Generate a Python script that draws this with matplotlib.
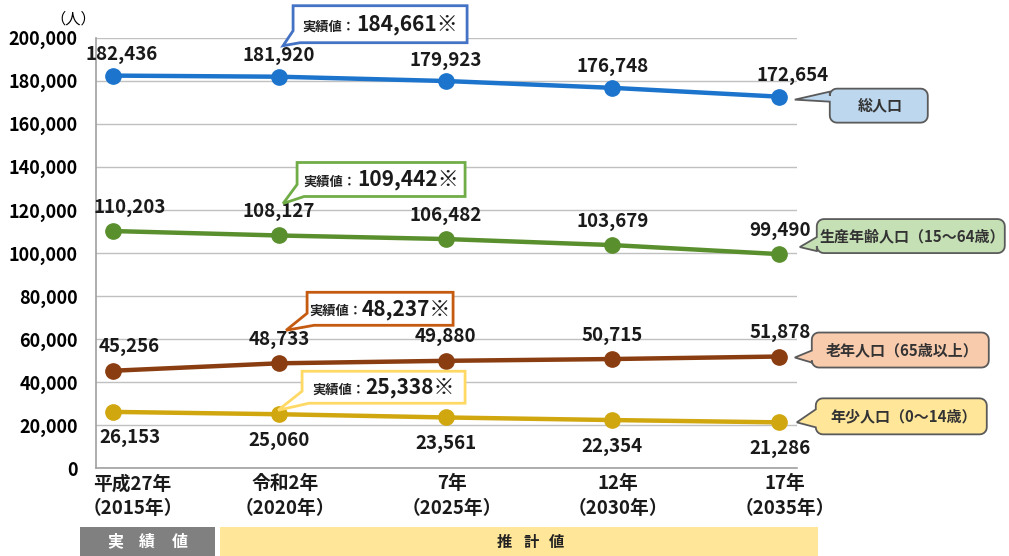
import numpy as np
import matplotlib.pyplot as plt
from matplotlib.offsetbox import TextArea, HPacker, AnnotationBbox
from matplotlib.transforms import Affine2D, ScaledTranslation
from matplotlib.patches import Rectangle, Polygon

plt.rcParams['font.family'] = ['Noto Sans CJK JP', 'DejaVu Sans']

# データ
era_labels = ['平成27年', '令和2年', '7年', '12年', '17年']
years = [2015, 2020, 2025, 2030, 2035]
total = [182436, 181920, 179923, 176748, 172654]
working = [110203, 108127, 106482, 103679, 99490]
elderly = [45256, 48733, 49880, 50715, 51878]
young = [26153, 25060, 23561, 22354, 21286]
actual_2020 = ['184,661※', '109,442※', '48,237※', '25,338※']

series_names = ['総人口', '生産年齢人口（15～64歳）', '老年人口（65歳以上）', '年少人口（0～14歳）']
series = [total, working, elderly, young]
line_colors = ['#1C74CC', '#5A8F2E', '#8A3D10', '#D0A70E']
box_colors = ['#BDD7EE', '#C5E0B4', '#F8CBAD', '#FFE699']
callout_edges = ['#4472C4', '#70AD47', '#C55A11', '#FFD966']

fig = plt.figure(figsize=(10.09, 5.56), dpi=100)
ax = fig.add_axes([0.095, 0.158, 0.695, 0.774])
x = list(range(len(years)))

for vals, c in zip(series, line_colors):
    ax.plot(x, vals, color=c, lw=3.2, marker='o', ms=11, zorder=3)

# データラベル
for i, vals in enumerate(series):
    dy = -26 if i == 3 else (21 if i == 0 else 24)
    for xi, v in zip(x, vals):
        dx = 0
        if xi == 0:
            dx = 9 if i == 0 else 17
        elif xi == len(x) - 1:
            dx = 14 if i == 0 else 1
        ax.annotate(f'{v:,}', (xi, v), xytext=(dx, dy),
                    textcoords='offset pixels', ha='center', va='center',
                    fontsize=13.5, fontweight='bold', color='#1A1A1A', zorder=5)

ax.set_xlim(-0.1, 4.11)
ax.set_ylim(0, 200000)
ax.set_yticks(range(0, 200001, 20000))
ax.set_yticklabels([f'{v:,}' for v in range(0, 200001, 20000)],
                   fontsize=13, fontweight='bold')
ax.set_xticks(x)
ax.set_xticklabels([])
ax.tick_params(length=0)
ax.tick_params(axis='y', pad=13)
ax.grid(axis='y', color='#C0C0C0', lw=1)
ax.set_axisbelow(True)
for s in ['top', 'right']:
    ax.spines[s].set_visible(False)
for s in ['left', 'bottom']:
    ax.spines[s].set_color('#A0A0A0')
    ax.spines[s].set_linewidth(1.2)

# 横軸ラベル（元図では少し右寄せ）
for xi, era, yr in zip(x, era_labels, years):
    dx = 20 if xi == 0 else 6
    ax.annotate(f'{era}\n（{yr}年）', (xi, 0), xycoords=('data', 'axes fraction'),
                xytext=(dx, -6), textcoords='offset pixels', ha='center', va='top',
                fontsize=13.5, fontweight='bold', linespacing=1.4,
                color='#1A1A1A', annotation_clip=False)

fig.text(0.073, 0.966, '（人）', fontsize=11, ha='center', va='center')


def anchored(xd, yd):
    # 画素単位のオフセットをデータ点に固定する変換
    return Affine2D() + ScaledTranslation(xd, yd, ax.transData)


def to_offsets(pts, anchor):
    px, py = anchor
    return [(X - px, -(Y - py)) for X, Y in pts]


def arc(cx, cy, r, a0, a1, n=6):
    t = np.radians(np.linspace(a0, a1, n))
    return [(cx + r * np.cos(a), cy - r * np.sin(a)) for a in t]


# 実績値の吹き出し（画像座標：左, 上, 右, 下, 先端）
callout_geo = [
    ((279, 77), (293, 6, 467, 43), (283, 46)),
    ((279, 236), (297, 163, 465, 197), (283, 204)),
    ((279, 364), (307, 293, 453, 326), (286, 331)),
    ((279, 414), (302, 371, 465, 403), (278, 410)),
]
for i, vals in enumerate(series):
    anchor, (L, T, R, B), tip = callout_geo[i]
    pts = [(L, T), (R, T), (R, B), (L + 7, B), tip, (L, B - 12)]
    tr = anchored(1, vals[1])
    ax.add_patch(Polygon(to_offsets(pts, anchor), closed=True, transform=tr,
                         fc='white', ec=callout_edges[i], lw=2.0,
                         clip_on=False, zorder=6))
    small = TextArea('実績値：', textprops=dict(fontsize=9.5, fontweight='bold', color='#222222'))
    big = TextArea(actual_2020[i], textprops=dict(fontsize=15, fontweight='bold', color='#1A1A1A'))
    pack = HPacker(children=[small, big], align='baseline', pad=0, sep=0)
    (cx, cy), = to_offsets([((L + R) / 2, (T + B) / 2)], anchor)
    ab = AnnotationBbox(pack, (cx, cy), xycoords=tr, frameon=False,
                        box_alignment=(0.5, 0.5), zorder=7, annotation_clip=False)
    ax.add_artist(ab)

# 系列名の吹き出し（角丸）
label_geo = [
    ((779, 98), (830, 90, 928, 124), (103, (795, 101), 93)),
    ((779, 255), (817, 220, 1005, 254), (252, (800, 248), 238)),
    ((779, 357), (812, 333, 989, 368), (363, (795, 358), 351)),
    ((779, 423), (816, 399, 987, 435), (428, (797, 423), 410)),
]
r = 7
for i, vals in enumerate(series):
    anchor, (L, T, R, B), (yb_low, tip, yb_high) = label_geo[i]
    pts = []
    pts += arc(L + r, T + r, r, 180, 90)
    pts += arc(R - r, T + r, r, 90, 0)
    pts += arc(R - r, B - r, r, 0, -90)
    pts += arc(L + r, B - r, r, -90, -180)
    pts += [(L, yb_low), tip, (L, yb_high)]
    tr = anchored(len(x) - 1, vals[-1])
    ax.add_patch(Polygon(to_offsets(pts, anchor), closed=True, transform=tr,
                         fc=box_colors[i], ec='#5A5A5A', lw=1.3,
                         clip_on=False, zorder=6))
    (cx, cy), = to_offsets([((L + R) / 2 + 2, (T + B) / 2)], anchor)
    ax.text(cx, cy, series_names[i], transform=tr, ha='center', va='center',
            fontsize=10.8, fontweight='bold', color='#333333', zorder=7,
            clip_on=False)

# 下部の区分帯
fig.add_artist(Rectangle((0.079, 0.0), 0.134, 0.053, transform=fig.transFigure,
                         fc='#808080', ec='none'))
fig.add_artist(Rectangle((0.218, 0.0), 0.593, 0.053, transform=fig.transFigure,
                         fc='#FFE699', ec='none'))
for k, ch in enumerate('実績値'):
    fig.text(0.146 + (k - 1) * 0.032, 0.026, ch, color='white', fontsize=11.5,
             fontweight='bold', ha='center', va='center')
for k, ch in enumerate('推計値'):
    fig.text(0.526 + (k - 1) * 0.026, 0.026, ch, color='#222222', fontsize=11,
             fontweight='bold', ha='center', va='center')

fig.savefig('out.png', dpi=100)
